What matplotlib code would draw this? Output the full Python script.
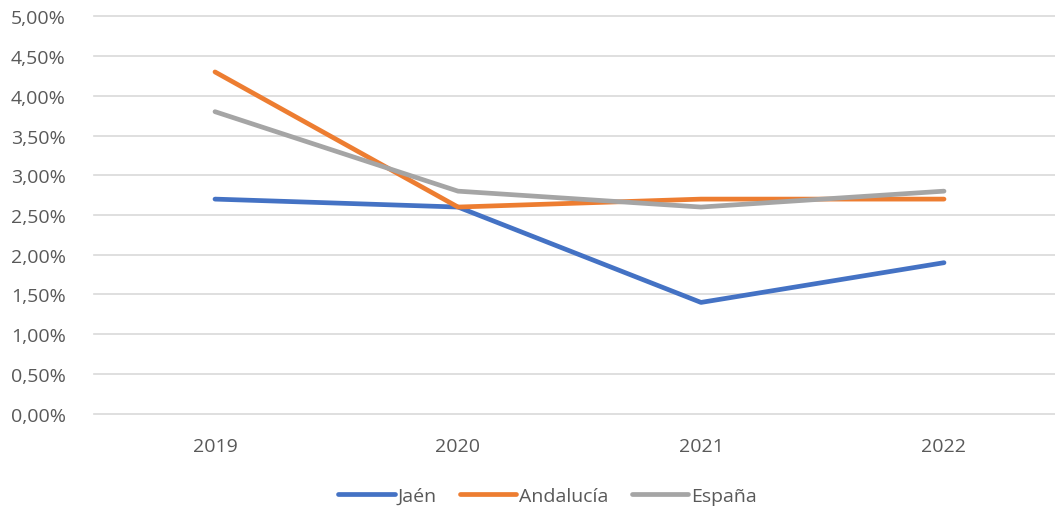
import matplotlib
matplotlib.use("Agg")
import matplotlib.pyplot as plt
from matplotlib.ticker import FuncFormatter, MultipleLocator

years = ["2019", "2020", "2021", "2022"]
jaen = [2.7, 2.6, 1.4, 1.9]
andalucia = [4.3, 2.6, 2.7, 2.7]
espana = [3.8, 2.8, 2.6, 2.8]
series_names = ["Jaén", "Andalucía", "España"]
colors = ["#4472C4", "#ED7D31", "#A5A5A5"]

plt.rcParams['font.family'] = ['Open Sans', 'DejaVu Sans']

fig = plt.figure(figsize=(10.55, 5.10), dpi=100)
ax = fig.add_axes([93.5/1055, (510-414.7)/510, 972/1055, 397.4/510])

x = range(len(years))
for vals, name, c in zip([jaen, andalucia, espana], series_names, colors):
    ax.plot(x, vals, color=c, lw=3.4, label=name, solid_capstyle='round')

ax.set_xlim(-0.5, 3.5)
ax.set_ylim(0, 5)
ax.yaxis.set_major_locator(MultipleLocator(0.5))
ax.yaxis.set_major_formatter(FuncFormatter(lambda v, p: f"{v:.2f}%".replace('.', ',')))
ax.set_xticks(list(x))
ax.set_xticklabels(years)
ax.grid(axis='y', color='#D9D9D9', lw=1.2)
for gl in ax.get_ygridlines():
    gl.set_clip_on(False)
ax.set_axisbelow(True)
for s in ax.spines.values():
    s.set_visible(False)
ax.tick_params(axis='both', length=0, colors='#595959', labelsize=14)
ax.tick_params(axis='y', pad=20)
ax.tick_params(axis='x', pad=17)

leg = fig.legend(loc='center', bbox_to_anchor=(0.519, 0.025), ncol=3, frameon=False,
                 fontsize=14, handlelength=2.9, handletextpad=0.15, columnspacing=1.2)
for t in leg.get_texts():
    t.set_color('#595959')
for h in leg.get_lines():
    h.set_solid_capstyle('round')

fig.savefig("out.png", dpi=100)
